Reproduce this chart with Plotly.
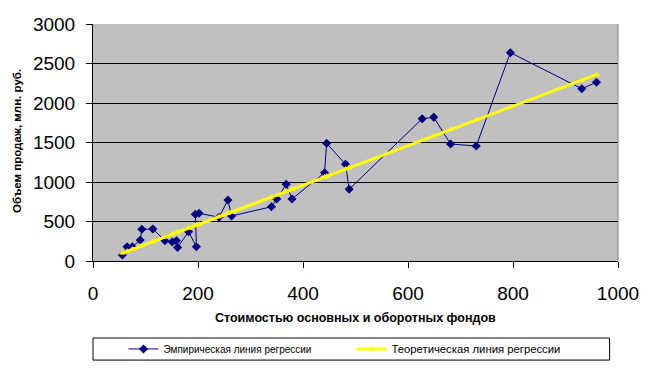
import plotly.graph_objects as go

x_emp = [56, 65, 75, 90, 93, 114, 137, 151, 159, 161, 182, 197, 195, 202, 240, 257, 264,
         340, 350, 368, 379, 441, 445, 481, 488, 627, 649, 681, 730, 795, 931, 959]
y_emp = [76, 181, 181, 266, 401, 405, 257, 241, 257, 171, 371, 181, 591, 604, 554, 772, 570,
         687, 785, 971, 785, 1118, 1490, 1224, 908, 1801, 1819, 1481, 1456, 2637, 2181, 2262]
# Theoretical values
y_theo = [100, 123, 148, 185, 193, 245, 303, 338, 358, 363, 415, 453, 448, 465, 560, 603, 620,
          810, 835, 880, 908, 1063, 1073, 1163, 1180, 1528, 1583, 1663, 1785, 1948, 2288, 2358]

name_emp = "Эмпирическая линия регрессии"
name_theo = "Теоретическая линия регрессии"
x_title = "Стоимостью основных и оборотных фондов"
y_title = "Объем продаж, млн. руб."
x_ticks = [0, 200, 400, 600, 800, 1000]
y_ticks = [0, 500, 1000, 1500, 2000, 2500, 3000]

fig = go.Figure()
fig.add_trace(go.Scatter(
    x=x_emp, y=y_emp, name=name_emp, mode="lines+markers",
    line=dict(color="#000080", width=1),
    marker=dict(symbol="diamond", size=7, color="#000080"),
))
fig.add_trace(go.Scatter(
    x=x_emp, y=y_theo, name="<span style='font-size:11.3px'>" + name_theo + "</span>",
    mode="lines+markers",
    line=dict(color="#FFFF00", width=3),
    marker=dict(symbol="triangle-up", size=6, color="#FFFF00"),
))

tickfont = dict(family="Liberation Sans, Arial, sans-serif", size=19, color="black")

fig.update_layout(
    width=649, height=371,
    margin=dict(l=93, r=31, t=24, b=110, autoexpand=False),
    paper_bgcolor="white",
    plot_bgcolor="#C0C0C0",
    showlegend=True,
    legend=dict(
        orientation="h",
        x=0.058, xanchor="left",
        y=-0.371, yanchor="middle",
        font=dict(family="Liberation Sans, Arial, sans-serif", size=10, color="black"),
        bgcolor="rgba(0,0,0,0)",
        entrywidth=183, entrywidthmode="pixels",
        tracegroupgap=0,
    ),
    xaxis=dict(
        range=[0, 1000], tickvals=x_ticks, showgrid=False, zeroline=False,
        showline=True, linecolor="black", linewidth=1, automargin=False,
        ticks="outside", ticklen=6, tickcolor="black", tickfont=tickfont,
        ticklabelstandoff=9,
    ),
    yaxis=dict(
        range=[0, 3000], tickvals=y_ticks, showgrid=True, gridcolor="black", gridwidth=1,
        zeroline=False, showline=True, linecolor="black", linewidth=1, automargin=False,
        ticks="outside", ticklen=6, tickcolor="black", tickfont=tickfont,
        ticklabelstandoff=7,
    ),
    annotations=[
        dict(text="<b>" + x_title + "</b>", xref="paper", yref="paper", x=0.5, y=-0.2405,
             xanchor="center", yanchor="middle", showarrow=False,
             font=dict(family="Liberation Sans, Arial, sans-serif", size=12.5, color="black")),
        dict(text="<b>" + y_title + "</b>", xref="paper", yref="paper", x=-0.145, y=0.506,
             xanchor="center", yanchor="middle", showarrow=False, textangle=-90,
             font=dict(family="Liberation Sans, Arial, sans-serif", size=11.5, color="black")),
    ],
    shapes=[
        dict(type="line", xref="paper", yref="paper", x0=1, x1=1, y0=0, y1=1,
             line=dict(color="#808080", width=1)),
        dict(type="rect", xref="paper", yref="paper", x0=0.0, x1=0.984, y0=-0.418, y1=-0.325,
             line=dict(color="black", width=1), fillcolor="rgba(0,0,0,0)"),
    ],
)

fig.write_html("out.html", config={"displayModeBar": False},
               post_script="document.body.style.margin='0';")
